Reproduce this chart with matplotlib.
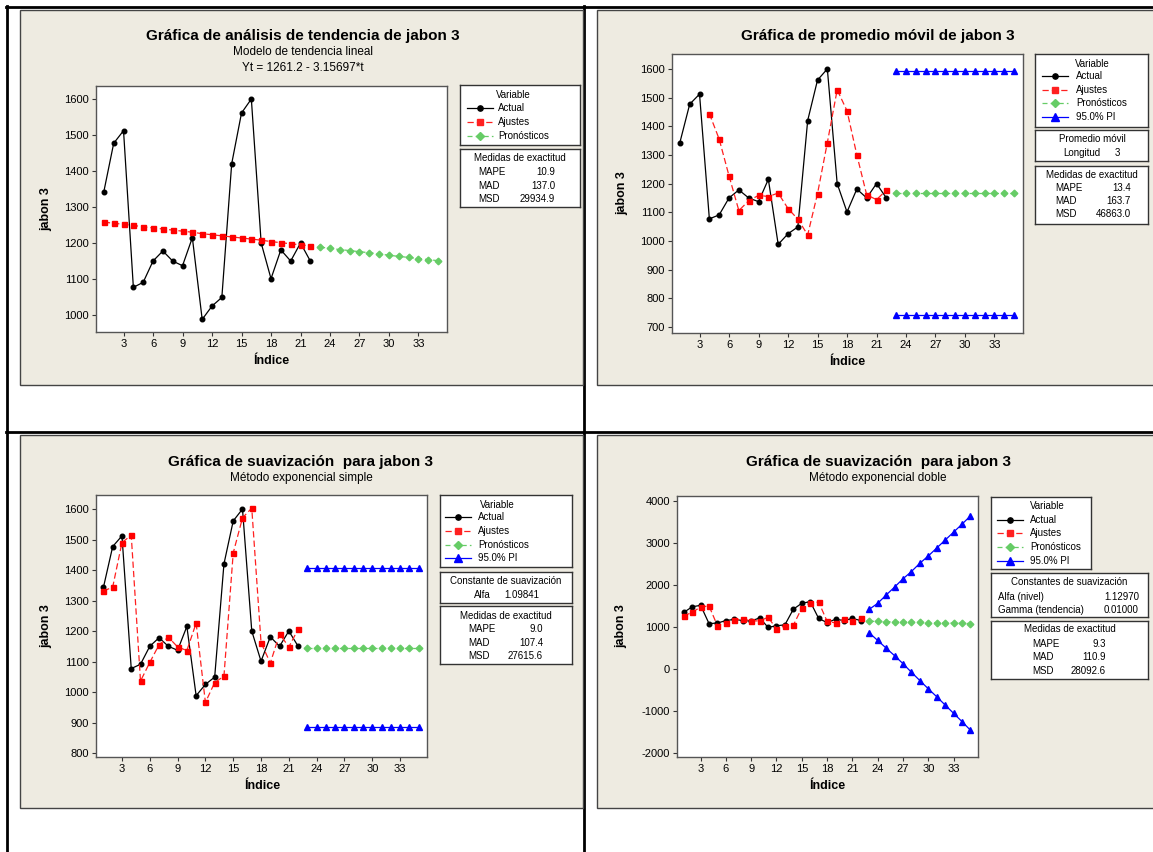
import matplotlib
matplotlib.use("Agg")
import matplotlib.pyplot as plt
from matplotlib.patches import Rectangle
from matplotlib.lines import Line2D

plt.rcParams['font.family'] = ['Liberation Sans', 'DejaVu Sans']
plt.rcParams['axes.unicode_minus'] = False

W, H = 1153, 852

# -------------------------
# Data
# -------------------------
t_actual = list(range(1, 23))
t_fore = list(range(23, 36))
actual = [1343, 1477, 1512, 1077, 1091, 1150, 1178, 1150, 1137, 1215, 988,
          1025, 1049, 1420, 1561, 1600, 1200, 1101, 1181, 1150, 1200, 1150]

# linear trend
trend_fit = [1258, 1255, 1252, 1249, 1245, 1242, 1239, 1236, 1233, 1230, 1226,
             1223, 1220, 1217, 1214, 1211, 1208, 1204, 1201, 1198, 1195, 1192]
trend_fore = [1189, 1185, 1182, 1179, 1176, 1173, 1170, 1166, 1163, 1160, 1157, 1154, 1151]

# moving average (length 3)
ma_t = list(range(4, 23))
ma_fit = [1444, 1355, 1227, 1106, 1140, 1159, 1155, 1167, 1113, 1076, 1021,
          1165, 1343, 1527, 1454, 1300, 1161, 1144, 1177]
ma_fore = 1167
ma_upper = 1593
ma_lower = 741

# single exponential
ses_fit = [1331, 1344, 1490, 1514, 1036, 1097, 1155, 1180, 1148, 1136, 1226,
           966, 1031, 1052, 1456, 1571, 1603, 1162, 1095, 1190, 1148, 1206]
ses_fore = 1145
ses_upper = 1408
ses_lower = 884

# double exponential
des_fit = [1260, 1346, 1472, 1496, 1024, 1102, 1165, 1189, 1142, 1142, 1228,
           953, 1024, 1039, 1449, 1559, 1591, 1134, 1094, 1181, 1142, 1205]
des_fore = [1134, 1129, 1125, 1120, 1116, 1111, 1106, 1102, 1097, 1093, 1088, 1083, 1079]
des_upper = [1417, 1559, 1756, 1945, 2142, 2315, 2512, 2685, 2874, 3063, 3252, 3441, 3638]
des_lower = [858, 677, 496, 315, 126, -79, -276, -472, -661, -858, -1055, -1252, -1457]

# -------------------------
# Styles
# -------------------------
BG = '#EEEBE1'
STY = {
    'Actual': dict(color='black', ls='-', marker='o', ms=3.3, lw=0.9),
    'Ajustes': dict(color='#FF2020', ls=(0, (5, 2.5)), marker='s', ms=3.6, lw=0.9,
                    mfc='red', mec='red'),
    'Pronósticos': dict(color='#66CC66', ls=(0, (4, 2.5)), marker='D', ms=3.4, lw=0.9),
    '95.0% PI': dict(color='#0000FF', ls='-', marker='^', ms=4.8, lw=0.9),
}


def rect(l, t, r, b):
    return [l / W, 1 - b / H, (r - l) / W, (b - t) / H]


def ftext(x, y, s, **kw):
    kw.setdefault('ha', 'center')
    kw.setdefault('va', 'center')
    fig.text(x / W, 1 - y / H, s, **kw)


def hline(y, x0, x1, lw=2):
    fig.add_artist(Line2D([x0 / W, x1 / W], [1 - y / H, 1 - y / H],
                          transform=fig.transFigure, color='black', lw=lw, zorder=-5))


def vline(x, y0, y1, lw=2):
    fig.add_artist(Line2D([x / W, x / W], [1 - y0 / H, 1 - y1 / H],
                          transform=fig.transFigure, color='black', lw=lw, zorder=-5))


def panel(l, t, r, b):
    fig.add_artist(Rectangle((l / W, 1 - b / H), (r - l) / W, (b - t) / H,
                             transform=fig.transFigure, facecolor=BG,
                             edgecolor='#444444', lw=1, zorder=-4))


def setup(ax, ylim, yticks):
    ax.set_xlim(0.2, 35.9)
    ax.set_ylim(*ylim)
    ax.set_xticks(range(3, 34, 3))
    ax.set_yticks(yticks)
    ax.tick_params(labelsize=8, length=3, direction='out', color='#333333', pad=2)
    for s in ax.spines.values():
        s.set_color('#555555')
        s.set_linewidth(1)


def box_ax(l, t, r, b):
    a = fig.add_axes(rect(l, t, r, b))
    a.set_xlim(l, r)
    a.set_ylim(b, t)
    a.set_xticks([])
    a.set_yticks([])
    a.set_facecolor('white')
    for s in a.spines.values():
        s.set_color('#333333')
        s.set_linewidth(1)
    return a


def legend_box(l, t, r, b, names, ys, x0, x1, xt, ytitle, xtitle):
    a = box_ax(l, t, r, b)
    a.text(xtitle, ytitle, 'Variable', fontsize=7, ha='center', va='center')
    for name, y in zip(names, ys):
        st = dict(STY[name])
        a.plot([x0, x1], [y, y], color=st['color'], ls=st['ls'], lw=st['lw'])
        a.plot([(x0 + x1) / 2], [y], marker=st['marker'], ms=st['ms'] + 0.5,
               color=st['color'], ls='none')
        a.text(xt, y, name, fontsize=7, ha='left', va='center')


def measures_box(l, t, r, b, ytitle, rows, xl, xr):
    a = box_ax(l, t, r, b)
    a.text((l + r) / 2, ytitle, 'Medidas de exactitud', fontsize=7, ha='center', va='center')
    for (lab, val, y) in rows:
        a.text(xl, y, lab, fontsize=7, ha='left', va='center')
        a.text(xr, y, val, fontsize=7, ha='right', va='center')
    return a


fig = plt.figure(figsize=(W / 100, H / 100), dpi=100)
fig.patch.set_facecolor('white')

# document table lines
hline(7, 6, W)
hline(432, 6, W)
vline(7, 6, H)
vline(584, 6, H)

# background panels
panel(20, 10, 583, 385)
panel(597, 10, W + 2, 385)
panel(20, 435, 583, 808)
panel(597, 435, W + 2, 808)

# -------------------------
# Panel 1: trend analysis
# -------------------------
ax1 = fig.add_axes(rect(96, 86, 447, 332))
ax1.set_facecolor('white')
ax1.plot(t_actual, actual, **STY['Actual'])
ax1.plot(t_actual, trend_fit, **STY['Ajustes'])
ax1.plot(t_fore, trend_fore, **STY['Pronósticos'])
setup(ax1, (953, 1636), range(1000, 1601, 100))
ftext(303, 36, 'Gráfica de análisis de tendencia de jabon 3', fontsize=11, fontweight='bold')
ftext(303, 52, 'Modelo de tendencia lineal', fontsize=8.5)
ftext(303, 68, 'Yt = 1261.2 - 3.15697*t', fontsize=8.5)
ftext(46, 209, 'jabon 3', fontsize=9, fontweight='bold', rotation=90)
ftext(271, 361, 'Índice', fontsize=9, fontweight='bold')
legend_box(460, 85, 580, 145, ['Actual', 'Ajustes', 'Pronósticos'],
           [108, 122, 136], 467, 493, 498, 95, 513)
measures_box(460, 149, 580, 207, 158,
             [('MAPE', '10.9', 172), ('MAD', '137.0', 186), ('MSD', '29934.9', 199)],
             478, 555)

# -------------------------
# Panel 2: moving average
# -------------------------
ax2 = fig.add_axes(rect(672, 54, 1023, 333))
ax2.set_facecolor('white')
ax2.plot(t_actual, actual, **STY['Actual'])
ax2.plot(ma_t, ma_fit, **STY['Ajustes'])
ax2.plot(t_fore, [ma_fore] * len(t_fore), **STY['Pronósticos'])
ax2.plot(t_fore, [ma_upper] * len(t_fore), **STY['95.0% PI'])
ax2.plot(t_fore, [ma_lower] * len(t_fore), **STY['95.0% PI'])
setup(ax2, (679, 1652), range(700, 1601, 100))
ftext(878, 36, 'Gráfica de promedio móvil de jabon 3', fontsize=11, fontweight='bold')
ftext(622, 193, 'jabon 3', fontsize=9, fontweight='bold', rotation=90)
ftext(847, 362, 'Índice', fontsize=9, fontweight='bold')
legend_box(1035, 54, 1148, 127, ['Actual', 'Ajustes', 'Pronósticos', '95.0% PI'],
           [76, 90, 103, 117], 1042, 1068, 1076, 64, 1092)
a = box_ax(1035, 130, 1148, 161)
a.text(1092, 139, 'Promedio móvil', fontsize=7, ha='center', va='center')
a.text(1063, 153, 'Longitud', fontsize=7, ha='left', va='center')
a.text(1120, 153, '3', fontsize=7, ha='right', va='center')
measures_box(1035, 166, 1148, 224, 175,
             [('MAPE', '13.4', 188), ('MAD', '163.7', 201), ('MSD', '46863.0', 214)],
             1055, 1131)

# -------------------------
# Panel 3: single exponential smoothing
# -------------------------
ax3 = fig.add_axes(rect(96, 495, 427, 757))
ax3.set_facecolor('white')
ax3.plot(t_actual, actual, **STY['Actual'])
ax3.plot(t_actual, ses_fit, **STY['Ajustes'])
ax3.plot(t_fore, [ses_fore] * len(t_fore), **STY['Pronósticos'])
ax3.plot(t_fore, [ses_upper] * len(t_fore), **STY['95.0% PI'])
ax3.plot(t_fore, [ses_lower] * len(t_fore), **STY['95.0% PI'])
setup(ax3, (787, 1646), range(800, 1601, 100))
ftext(301, 462, 'Gráfica de suavización  para jabon 3', fontsize=11, fontweight='bold')
ftext(301, 478, 'Método exponencial simple', fontsize=8.5)
ftext(46, 626, 'jabon 3', fontsize=9, fontweight='bold', rotation=90)
ftext(262, 786, 'Índice', fontsize=9, fontweight='bold')
legend_box(440, 495, 572, 567, ['Actual', 'Ajustes', 'Pronósticos', '95.0% PI'],
           [517, 531, 545, 558], 445, 471, 478, 505, 497)
a = box_ax(440, 572, 572, 603)
a.text(506, 581, 'Constante de suavización', fontsize=7, ha='center', va='center')
a.text(474, 595, 'Alfa', fontsize=7, ha='left', va='center')
a.text(539, 595, '1.09841', fontsize=7, ha='right', va='center')
measures_box(440, 606, 572, 664, 616,
             [('MAPE', '9.0', 629), ('MAD', '107.4', 643), ('MSD', '27615.6', 656)],
             468, 543)

# -------------------------
# Panel 4: double exponential smoothing
# -------------------------
ax4 = fig.add_axes(rect(677, 496, 978, 757))
ax4.set_facecolor('white')
ax4.plot(t_actual, actual, **STY['Actual'])
ax4.plot(t_actual, des_fit, **STY['Ajustes'])
ax4.plot(t_fore, des_fore, **STY['Pronósticos'])
ax4.plot(t_fore, des_upper, **STY['95.0% PI'])
ax4.plot(t_fore, des_lower, **STY['95.0% PI'])
setup(ax4, (-2095, 4112), range(-2000, 4001, 1000))
ftext(878, 462, 'Gráfica de suavización  para jabon 3', fontsize=11, fontweight='bold')
ftext(878, 478, 'Método exponencial doble', fontsize=8.5)
ftext(621, 626, 'jabon 3', fontsize=9, fontweight='bold', rotation=90)
ftext(827, 786, 'Índice', fontsize=9, fontweight='bold')
legend_box(991, 497, 1091, 569, ['Actual', 'Ajustes', 'Pronósticos', '95.0% PI'],
           [520, 533, 547, 561], 997, 1023, 1030, 506, 1047)
a = box_ax(991, 573, 1148, 617)
a.text(1069, 582, 'Constantes de suavización', fontsize=7, ha='center', va='center')
a.text(998, 597, 'Alfa (nivel)', fontsize=7, ha='left', va='center')
a.text(1139, 597, '1.12970', fontsize=7, ha='right', va='center')
a.text(998, 610, 'Gamma (tendencia)', fontsize=7, ha='left', va='center')
a.text(1139, 610, '0.01000', fontsize=7, ha='right', va='center')
measures_box(991, 621, 1148, 679, 629,
             [('MAPE', '9.3', 644), ('MAD', '110.9', 657), ('MSD', '28092.6', 671)],
             1032, 1106)

fig.savefig('out.png', dpi=100, facecolor='white')
